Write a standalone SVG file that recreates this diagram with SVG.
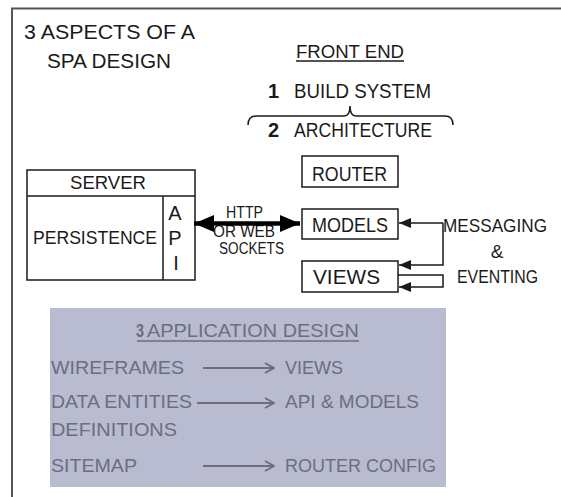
<svg xmlns="http://www.w3.org/2000/svg" width="561" height="497" viewBox="0 0 561 497">
<defs>
<style>
text{font-family:"Liberation Sans",Arial,sans-serif;fill:#1a1a1a;}
.b{font-weight:bold;}
.box{fill:#fff;stroke:#1a1a1a;stroke-width:1.5;}
.ln{fill:none;stroke:#1a1a1a;stroke-width:1.5;}
.g text{fill:#6c6e7e;font-size:18px;}
.garr{fill:none;stroke:#6c6e7e;stroke-width:2;}
</style>
<marker id="ah" viewBox="0 0 12 10" refX="12" refY="5" markerWidth="12" markerHeight="10" markerUnits="userSpaceOnUse" orient="auto">
<path d="M0,0 L12,5 L0,10 Z" fill="#1a1a1a"/>
</marker>
<marker id="big" viewBox="0 0 20 17" refX="20" refY="8.5" markerWidth="20" markerHeight="17" markerUnits="userSpaceOnUse" orient="auto-start-reverse">
<path d="M0,0 L20,8.5 L0,17 Z" fill="#000"/>
</marker>
<marker id="chev" viewBox="0 0 12 12" refX="11" refY="6" markerWidth="12" markerHeight="12" markerUnits="userSpaceOnUse" orient="auto">
<path d="M2,1 L11,6 L2,11" fill="none" stroke="#6c6e7e" stroke-width="2"/>
</marker>
</defs>
<rect width="561" height="497" fill="#fff"/>
<path d="M12,497 L12,8.5 L561,8.5" fill="none" stroke="#555" stroke-width="2"/>

<g id="title">
<text x="24" y="39" font-size="20.5" textLength="171" lengthAdjust="spacingAndGlyphs">3 ASPECTS OF A</text>
<text x="47" y="68" font-size="20.5" textLength="124" lengthAdjust="spacingAndGlyphs">SPA DESIGN</text>
</g>

<g id="frontend">
<text x="296" y="58" font-size="18.5" textLength="108" lengthAdjust="spacingAndGlyphs">FRONT END</text>
<line x1="296" y1="61" x2="404" y2="61" stroke="#1a1a1a" stroke-width="1.3"/>
<text x="268" y="98" font-size="20" class="b">1</text>
<text x="294" y="98" font-size="20.5" textLength="137" lengthAdjust="spacingAndGlyphs">BUILD SYSTEM</text>
<path class="ln" d="M248,125 Q248,116 256,116 L344,116 Q350,116 350,106 Q350,116 356,116 L445,116 Q453,116 453,125" stroke="#333"/>
<text x="268" y="137" font-size="20" class="b">2</text>
<text x="294" y="137" font-size="20.5" textLength="138" lengthAdjust="spacingAndGlyphs">ARCHITECTURE</text>
</g>

<g id="server">
<rect class="box" x="27" y="170" width="168" height="110"/>
<line class="ln" x1="27" y1="196" x2="195" y2="196"/>
<line class="ln" x1="163" y1="196" x2="163" y2="280"/>
<text x="70" y="189" font-size="19" textLength="76" lengthAdjust="spacingAndGlyphs">SERVER</text>
<text x="33" y="244" font-size="18" textLength="124" lengthAdjust="spacingAndGlyphs">PERSISTENCE</text>
<text x="175" y="220" font-size="20" text-anchor="middle">A</text>
<text x="175" y="245" font-size="20" text-anchor="middle">P</text>
<text x="176" y="270" font-size="20" text-anchor="middle">I</text>
</g>

<g id="router">
<rect class="box" x="302" y="156" width="96" height="31"/>
<text x="312" y="181" font-size="20" textLength="75" lengthAdjust="spacingAndGlyphs">ROUTER</text>
</g>
<g id="models">
<rect class="box" x="302" y="209" width="96" height="30"/>
<text x="312" y="232" font-size="20" textLength="76" lengthAdjust="spacingAndGlyphs">MODELS</text>
</g>
<g id="views">
<rect class="box" x="302" y="261" width="96" height="31"/>
<text x="313" y="284" font-size="20" textLength="67" lengthAdjust="spacingAndGlyphs">VIEWS</text>
</g>

<g id="messaging">
<text x="443" y="232" font-size="18.5" textLength="104" lengthAdjust="spacingAndGlyphs">MESSAGING</text>
<text x="497" y="258" font-size="19" text-anchor="middle">&amp;</text>
<text x="457" y="283" font-size="18.5" textLength="81" lengthAdjust="spacingAndGlyphs">EVENTING</text>
</g>

<g id="http-label">
<text x="226" y="218" font-size="16" textLength="37" lengthAdjust="spacingAndGlyphs">HTTP</text>
<text x="213" y="237" font-size="16" textLength="62" lengthAdjust="spacingAndGlyphs">OR WEB</text>
<text x="219" y="254" font-size="16" textLength="65" lengthAdjust="spacingAndGlyphs">SOCKETS</text>
</g>

<g id="connectors">
<line x1="194" y1="223.5" x2="300" y2="223.5" stroke="#000" stroke-width="4.5" marker-start="url(#big)" marker-end="url(#big)"/>
<path class="ln" d="M443,223 L399,223" marker-end="url(#ah)"/>
<path class="ln" d="M443,223 L443,265 L399,265" marker-end="url(#ah)"/>
<path class="ln" d="M398,275 L443,275 L443,287 L399,287" marker-end="url(#ah)"/>
</g>

<g id="app-design" class="g">
<rect x="50" y="308" width="396" height="179" fill="#b9bbd0"/>
<text x="136" y="337" font-weight="bold" textLength="8" lengthAdjust="spacingAndGlyphs">3</text>
<text x="147" y="337" font-size="17.5" textLength="212" lengthAdjust="spacingAndGlyphs">APPLICATION DESIGN</text>
<line x1="137" y1="341" x2="359" y2="341" stroke="#6c6e7e" stroke-width="1.3"/>
<text x="51" y="374" textLength="133" lengthAdjust="spacingAndGlyphs">WIREFRAMES</text>
<text x="51" y="408" textLength="141" lengthAdjust="spacingAndGlyphs">DATA ENTITIES</text>
<text x="51" y="436" textLength="126" lengthAdjust="spacingAndGlyphs">DEFINITIONS</text>
<text x="51" y="472" textLength="86" lengthAdjust="spacingAndGlyphs">SITEMAP</text>
<text x="285" y="374" textLength="58" lengthAdjust="spacingAndGlyphs">VIEWS</text>
<text x="285" y="408" textLength="134" lengthAdjust="spacingAndGlyphs">API &amp; MODELS</text>
<text x="285" y="472" textLength="151" lengthAdjust="spacingAndGlyphs">ROUTER CONFIG</text>
<line class="garr" x1="203" y1="368" x2="274" y2="368" marker-end="url(#chev)"/>
<line class="garr" x1="197" y1="403" x2="274" y2="403" marker-end="url(#chev)"/>
<line class="garr" x1="203" y1="466" x2="274" y2="466" marker-end="url(#chev)"/>
</g>
</svg>
